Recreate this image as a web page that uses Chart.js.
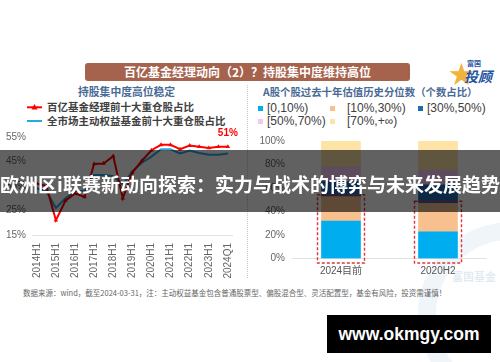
<!DOCTYPE html>
<html><head><meta charset="utf-8">
<script src="https://cdn.jsdelivr.net/npm/chart.js@4.4.1/dist/chart.umd.min.js"></script>
<style>
html,body{margin:0;padding:0;background:#fff;}
#page{position:relative;width:500px;height:362px;overflow:hidden;background:#fff;font-family:"Noto Sans CJK SC","Liberation Sans",sans-serif;}
.abs{position:absolute;white-space:nowrap;}
canvas{position:absolute;}
.sq{position:absolute;width:5px;height:5px;}
.lg{position:absolute;font-family:"Liberation Sans","Noto Sans CJK SC",sans-serif;font-size:12px;color:#404040;line-height:14px;height:14px;}
</style></head><body>
<div id="page">
  <div class="abs" style="left:418px;top:222px;width:150px;height:150px;border-radius:50%;border:18px solid rgba(110,160,210,0.10);"></div>
  <div class="abs" style="left:452px;top:268px;font-size:11px;font-weight:bold;color:rgba(120,160,200,0.22);">富国基金</div>

  <div class="abs" style="left:85px;top:63px;width:325px;height:18px;background:#a5624d;border-radius:3px;color:#fff;font-weight:bold;font-size:12px;line-height:18px;text-align:center;">百亿基金经理动向（2）？持股集中度维持高位</div>

  <div class="abs" style="left:449px;top:58px;font-size:25px;line-height:28px;color:#f0b43c;">★</div>
  <div class="abs" style="left:467px;top:59px;font-size:7px;line-height:8px;font-weight:bold;color:#1f55a0;">富国</div>
  <div class="abs" style="left:464px;top:68px;font-size:14px;line-height:16px;font-weight:bold;font-style:italic;color:#1f55a0;">投顾</div>

  <div class="abs" style="left:78px;top:85px;font-size:10.8px;line-height:13px;font-weight:bold;color:#4a6a96;">持股集中度高位稳定</div>
  <div class="abs" style="left:263px;top:85px;font-size:10.4px;line-height:13px;font-weight:bold;color:#4a6a96;">A股个股过去十年估值历史分位数（个数占比）</div>

  <svg class="abs" style="left:26px;top:102px;" width="18" height="24">
    <line x1="1" y1="5.3" x2="16" y2="5.3" stroke="#ff0000" stroke-width="2"/>
    <polygon points="8.5,2 11.5,7.5 5.5,7.5" fill="#ff0000"/>
    <line x1="1" y1="19" x2="16" y2="19" stroke="#2aa8e0" stroke-width="2"/>
  </svg>
  <div class="abs" style="left:47px;top:100px;font-size:10.5px;line-height:14px;font-weight:bold;color:#404040;">百亿基金经理前十大重仓股占比</div>
  <div class="abs" style="left:47px;top:114px;font-size:10.5px;line-height:14px;font-weight:bold;color:#404040;">全市场主动权益基金前十大重仓股占比</div>

  <div class="sq" style="left:258px;top:106px;background:#00aeef;"></div>
  <div class="lg" style="left:267px;top:101px;">[0,10%)</div>
  <div class="sq" style="left:330px;top:106px;background:#f8c08e;"></div>
  <div class="lg" style="left:347px;top:101px;">[10%,30%)</div>
  <div class="sq" style="left:418px;top:106px;background:#1f6cb4;"></div>
  <div class="lg" style="left:427px;top:101px;">[30%,50%)</div>
  <div class="sq" style="left:258px;top:119px;background:#f3c8f0;"></div>
  <div class="lg" style="left:267px;top:114px;">[50%,70%)</div>
  <div class="sq" style="left:330px;top:119px;background:#fde3a6;"></div>
  <div class="lg" style="left:347px;top:114px;">[70%,+∞)</div>

  <div class="abs" style="left:247px;top:85px;height:193px;border-left:1px dotted #c8c8c8;"></div>

  <canvas id="left" width="248" height="155" style="left:0;top:125px;"></canvas>
  <canvas id="right" width="250" height="160" style="left:250px;top:125px;"></canvas>

  <div class="abs" style="left:23px;top:288px;font-size:7.5px;line-height:9px;color:#666;">数据来源：wind，截至2024-03-31，注：主动权益基金包含普通股票型、偏股混合型、灵活配置型，基金有风险，投资需谨慎！</div>

  <div class="abs" style="left:0;top:149.5px;width:500px;height:62px;background:rgba(0,0,0,0.62);"></div>
  <div class="abs" style="left:0;top:173px;width:500px;height:21px;line-height:21px;font-size:19px;font-weight:bold;color:#fff;text-align:center;">欧洲区i联赛新动向探索：实力与战术的博弈与未来发展趋势</div>

  <div class="abs" style="left:327px;top:315px;width:164px;height:38px;background:#000;color:#fff;font-family:'Liberation Sans',sans-serif;font-weight:bold;font-size:17.5px;line-height:38px;text-align:center;">www.okmgy.com</div>
</div>
<script>
const halfYears = ['2014H1','2014H2','2015H1','2015H2','2016H1','2016H2','2017H1','2017H2','2018H1','2018H2','2019H1','2019H2','2020H1','2020H2','2021H1','2021H2','2022H1','2022H2','2023H1','2023H2','2024Q1'];
const shareTop100 = [36,35,21,29,32,30.5,44,44.2,47.2,30,40.5,45.3,49.6,51.8,51.8,50,51.5,51,50.5,51,51];
const shareMarket = [34,33,26,30,33,33,39.5,39.5,39,35.5,41,44.5,47,50,50,48.3,49.5,48.5,47.8,47.8,48.3];
const leftTicks = [15,25,35,45,55];

const valCats = ['2024目前','2020H2'];
const pct0to10 = [31.9,22.8];
const pct10to30 = [20.7,24.2];
const pct30to50 = [12.8,15.6];
const pct50to70 = [12.7,12.7];
const pct70up = [21.9,24.7];
const rightTicks = [0,20,40,60,80,100];

Chart.defaults.animation = false;
Chart.defaults.font.family = '"Liberation Sans Narrow","Liberation Sans","Noto Sans CJK SC",sans-serif';

const lastLabel = {
  id:'lastLabel',
  afterDatasetsDraw(chart){
    const meta = chart.getDatasetMeta(0);
    const n = meta.data.length - 1;
    const p = meta.data[n];
    const v = chart.data.datasets[0].data[n];
    const ctx = chart.ctx;
    ctx.save();
    ctx.fillStyle = '#ff0000';
    ctx.font = 'bold 10px "Liberation Sans",sans-serif';
    ctx.textAlign = 'center';
    ctx.textBaseline = 'middle';
    ctx.fillText(Math.round(v) + '%', p.x, p.y - 14);
    ctx.restore();
  }
};

new Chart(document.getElementById('left'), {
  type:'line',
  data:{
    labels:halfYears,
    datasets:[
      {data:shareTop100,borderColor:'#ff0000',backgroundColor:'#ff0000',borderWidth:2,pointStyle:'triangle',pointRadius:2.6,pointBackgroundColor:'#ff0000',pointBorderWidth:0,tension:0},
      {data:shareMarket,borderColor:'#2aa8e0',borderWidth:2,pointRadius:0,tension:0}
    ]
  },
  options:{
    responsive:false,
    layout:{padding:{top:10,right:5,left:0,bottom:0}},
    plugins:{legend:{display:false},tooltip:{enabled:false}},
    scales:{
      x:{
        offset:true,
        grid:{display:false,drawTicks:false},
        border:{display:true,color:'#e2e2e2',width:1},
        ticks:{autoSkip:false,maxRotation:90,minRotation:90,padding:8,color:'#666',font:{size:10},
          callback:function(v,i){return i%2===0?halfYears[i]:'';}},
        afterFit:function(s){s.height=45;}
      },
      y:{
        min:15,max:55,
        grid:{display:false,drawTicks:false},
        border:{display:false},
        afterBuildTicks:function(s){s.ticks=leftTicks.map(v=>({value:v}));},
        ticks:{padding:6,color:'#666',font:{size:10},callback:v=>v+'%'},
        afterFit:function(s){s.width=32;}
      }
    }
  },
  plugins:[lastLabel]
});

const dashBox = {
  id:'dashBox',
  afterDatasetsDraw(chart){
    const xs = chart.scales.x, ys = chart.scales.y, ctx = chart.ctx;
    ctx.save();
    ctx.strokeStyle = '#e0353a';
    ctx.lineWidth = 1.4;
    ctx.setLineDash([3,2]);
    valCats.forEach((c,i)=>{
      const xc = xs.getPixelForValue(i);
      const top = ys.getPixelForValue(pct0to10[i] + pct10to30[i]) - 2;
      const bot = ys.getPixelForValue(0) + 4.5;
      ctx.strokeRect(xc - 23.5, top, 47, bot - top);
    });
    ctx.restore();
  }
};

new Chart(document.getElementById('right'), {
  type:'bar',
  data:{
    labels:valCats,
    datasets:[
      {label:'[0,10%)',data:pct0to10,backgroundColor:'#00aeef'},
      {label:'[10%,30%)',data:pct10to30,backgroundColor:'#f8c08e'},
      {label:'[30%,50%)',data:pct30to50,backgroundColor:'#1f6cb4'},
      {label:'[50%,70%)',data:pct50to70,backgroundColor:'#f3c8f0'},
      {label:'[70%,+∞)',data:pct70up,backgroundColor:'#fde3a6'}
    ]
  },
  options:{
    responsive:false,
    barThickness:39,
    layout:{padding:{top:16,right:13.5,left:0,bottom:0}},
    plugins:{legend:{display:false},tooltip:{enabled:false}},
    scales:{
      x:{
        stacked:true,
        grid:{display:false,drawTicks:false},
        border:{display:true,color:'#e2e2e2',width:1},
        ticks:{padding:7,color:'#555',font:{size:10,family:'"Liberation Sans","Noto Sans CJK SC",sans-serif'}},
        afterFit:function(s){s.height=26.5;}
      },
      y:{
        stacked:true,min:0,max:100,
        grid:{display:false,drawTicks:false},
        border:{display:false},
        afterBuildTicks:function(s){s.ticks=rightTicks.map(v=>({value:v}));},
        ticks:{padding:7.5,color:'#666',font:{size:10},callback:v=>v+'%'},
        afterFit:function(s){s.width=42.5;}
      }
    }
  },
  plugins:[dashBox]
});
</script>
</body></html>
